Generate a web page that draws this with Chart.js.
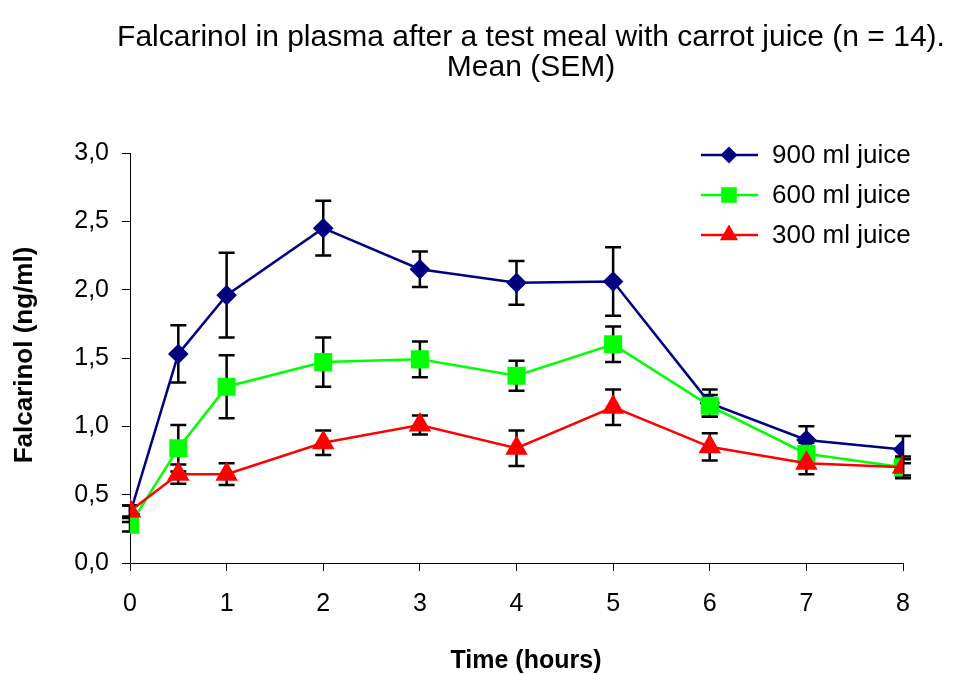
<!DOCTYPE html>
<html>
<head>
<meta charset="utf-8">
<script src="https://cdn.jsdelivr.net/npm/chart.js@4/dist/chart.umd.min.js"></script>
<style>
html,body{margin:0;padding:0;background:#fff;}
#wrap{width:961px;height:675px;position:relative;}
</style>
</head>
<body>
<div id="wrap"><canvas id="c" width="961" height="675"></canvas></div>
<script>
const times = [0, 0.5, 1, 2, 3, 4, 5, 6, 7, 8];
const seriesNames = ['900 ml juice', '600 ml juice', '300 ml juice'];
const mean900 = [0.36, 1.53, 1.96, 2.45, 2.15, 2.05, 2.06, 1.17, 0.90, 0.83];
const sem900  = [0.06, 0.21, 0.31, 0.20, 0.13, 0.16, 0.25, 0.10, 0.10, 0.10];
const mean600 = [0.28, 0.84, 1.29, 1.47, 1.49, 1.37, 1.60, 1.15, 0.80, 0.70];
const sem600  = [0.05, 0.17, 0.23, 0.18, 0.13, 0.11, 0.13, 0.08, 0.08, 0.06];
const mean300 = [0.38, 0.65, 0.65, 0.88, 1.01, 0.84, 1.14, 0.85, 0.73, 0.70];
const sem300  = [0.04, 0.07, 0.08, 0.09, 0.07, 0.13, 0.13, 0.10, 0.08, 0.08];
const titleLines = ['Falcarinol in plasma after a test meal with carrot juice (n = 14).', 'Mean (SEM)'];
const xTitle = 'Time (hours)';
const yTitle = 'Falcarinol (ng/ml)';

const FONT = "'Liberation Sans', Arial, sans-serif";

function pts(means){ return times.map((t,i)=>({x:t, y:means[i]})); }

const errorBars = {
  id: 'errorBars',
  beforeDatasetsDraw(chart){
    const ctx = chart.ctx, xs = chart.scales.x, ys = chart.scales.y;
    ctx.save();
    ctx.strokeStyle = '#000';
    ctx.lineWidth = 2.5;
    chart.data.datasets.forEach(ds => {
      ds.data.forEach((p,i) => {
        const e = ds.sem[i];
        const px = xs.getPixelForValue(p.x);
        const top = ys.getPixelForValue(p.y + e);
        const bot = ys.getPixelForValue(p.y - e);
        ctx.beginPath();
        ctx.moveTo(px, top); ctx.lineTo(px, bot);
        ctx.moveTo(px-8, top); ctx.lineTo(px+8, top);
        ctx.moveTo(px-8, bot); ctx.lineTo(px+8, bot);
        ctx.stroke();
      });
    });
    ctx.restore();
  }
};

const decor = {
  id: 'decor',
  afterDraw(chart){
    const ctx = chart.ctx, area = chart.chartArea;
    ctx.save();
    ctx.fillStyle = '#000';
    ctx.textAlign = 'center';
    ctx.textBaseline = 'alphabetic';
    ctx.font = '30px ' + FONT;
    ctx.fillText(titleLines[0], 531, 46);
    ctx.fillText(titleLines[1], 531, 76);
    ctx.font = 'bold 25px ' + FONT;
    ctx.fillText(xTitle, 526, 668);
    ctx.font = 'bold 26px ' + FONT;
    ctx.save();
    ctx.translate(32, (area.top+area.bottom)/2 - 3);
    ctx.rotate(-Math.PI/2);
    ctx.fillText(yTitle, 0, 0);
    ctx.restore();
    // legend
    const ys = [155, 195, 235];
    chart.data.datasets.forEach((ds,i) => {
      const y = ys[i];
      ctx.strokeStyle = ds.borderColor;
      ctx.lineWidth = 2.5;
      ctx.beginPath(); ctx.moveTo(701, y); ctx.lineTo(758, y); ctx.stroke();
      ctx.fillStyle = ds.borderColor;
      Chart.helpers.drawPoint(ctx, {pointStyle: ds.pointStyle, radius: ds.pointRadius, rotation: 0, borderWidth: 0}, 729, y);
      ctx.fillStyle = '#000';
      ctx.font = '26px ' + FONT;
      ctx.textAlign = 'left';
      ctx.textBaseline = 'middle';
      ctx.fillText(ds.label, 772, y+1);
    });
    ctx.restore();
  }
};

new Chart(document.getElementById('c'), {
  type: 'line',
  data: {
    datasets: [
      {label: seriesNames[0], data: pts(mean900), sem: sem900, order: 3, borderColor:'#000080', backgroundColor:'#000080', pointStyle:'rectRot', pointRadius:8.5, borderWidth:2.5},
      {label: seriesNames[1], data: pts(mean600), sem: sem600, order: 2, borderColor:'#00ff00', backgroundColor:'#00ff00', pointStyle:'rect', pointRadius:11, borderWidth:2.5},
      {label: seriesNames[2], data: pts(mean300), sem: sem300, order: 1, borderColor:'#ff0000', backgroundColor:'#ff0000', pointStyle:'triangle', pointRadius:10.5, borderWidth:2.5}
    ]
  },
  options: {
    responsive: false,
    animation: false,
    layout: {padding: {left: 0, right: 58, top: 153, bottom: 0}},
    plugins: {legend: {display:false}, title:{display:false}, tooltip:{enabled:false}},
    elements: {point: {borderWidth: 0}, line: {tension: 0}},
    scales: {
      x: {
        type: 'linear', min: 0, max: 8,
        ticks: {stepSize: 1, color:'#000', font:{family: FONT, size: 25}, padding: 18, maxRotation:0},
        grid: {drawOnChartArea:false, drawTicks:true, tickLength:8, color:'#000'},
        border: {color:'#000', width:1},
        afterFit(s){ s.height = 112; }
      },
      y: {
        min: 0, max: 3,
        ticks: {stepSize: 0.5, color:'#000', font:{family: FONT, size: 25}, padding: 13,
                callback: v => v.toFixed(1).replace('.', ',')},
        grid: {drawOnChartArea:false, drawTicks:true, tickLength:8, color:'#000'},
        border: {color:'#000', width:1},
        afterFit(s){ s.width = 130; }
      }
    }
  },
  plugins: [errorBars, decor]
});
</script>
</body>
</html>
